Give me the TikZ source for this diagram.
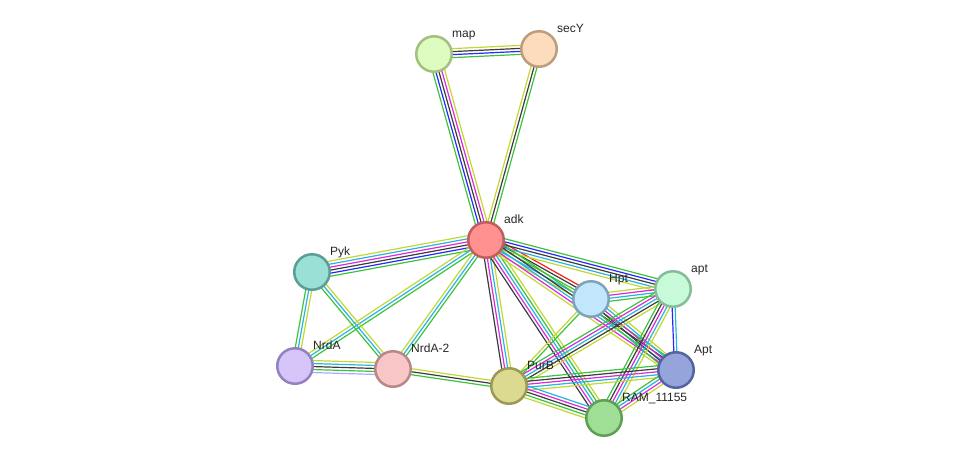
\documentclass[tikz,border=0pt]{standalone}
\usepackage{fontspec}
\setmainfont{Liberation Sans}
\usetikzlibrary{calc,backgrounds}
\definecolor{gn}{RGB}{60,195,60}
\definecolor{rd}{RGB}{250,30,30}
\definecolor{bl}{RGB}{40,40,250}
\definecolor{bk}{RGB}{60,60,60}
\definecolor{mg}{RGB}{220,40,220}
\definecolor{cy}{RGB}{40,180,225}
\definecolor{yl}{RGB}{195,215,50}
\definecolor{lv}{RGB}{170,170,255}
\tikzset{
  prot/.style={circle, minimum size=35.5pt, inner sep=0pt, line width=2.5pt},
  lbl/.style={font=\fontsize{12}{14}\selectfont, anchor=base west, inner sep=0pt, text=black!85},
  evline/.style={line width=1.2pt},
}
\newcommand\sedge[3]{%
  \def\nn{0}%
  \foreach \cc in {#3}{\xdef\nn{\the\numexpr\nn+1\relax}}%
  \foreach \cc [count=\ii] in {#3}{%
    \pgfmathsetmacro\off{(\ii-(\nn+1)/2)*3.0}%
    \draw[evline, color=\cc] ($(#1.center)!\off pt!90:(#2.center)$) -- ($(#2.center)!\off pt!-90:(#1.center)$);
  }%
}
\begin{document}
\begin{tikzpicture}[x=1pt,y=-1pt]
\useasboundingbox (0,0) rectangle (975,464);
\node[prot, fill={rgb,255:red,222;green,252;blue,192}, draw={rgb,255:red,163;green,192;blue,127}] (map) at (434,54) {};
\node[prot, fill={rgb,255:red,253;green,220;blue,189}, draw={rgb,255:red,188;green,157;blue,125}] (secY) at (539,49) {};
\node[prot, fill={rgb,255:red,255;green,145;blue,145}, draw={rgb,255:red,192;green,94;blue,94}] (adk) at (486,240) {};
\node[prot, fill={rgb,255:red,154;green,224;blue,214}, draw={rgb,255:red,90;green,158;blue,149}] (Pyk) at (312,272) {};
\node[prot, fill={rgb,255:red,213;green,197;blue,248}, draw={rgb,255:red,148;green,130;blue,192}] (NrdA) at (295,366) {};
\node[prot, fill={rgb,255:red,248;green,198;blue,198}, draw={rgb,255:red,184;green,136;blue,136}] (NrdA2) at (393,369) {};
\node[prot, fill={rgb,255:red,220;green,217;blue,144}, draw={rgb,255:red,155;green,153;blue,85}] (PurB) at (509,386) {};
\node[prot, fill={rgb,255:red,194;green,230;blue,251}, draw={rgb,255:red,126;green,164;blue,188}] (Hpt) at (591,299) {};
\node[prot, fill={rgb,255:red,198;green,250;blue,216}, draw={rgb,255:red,134;green,188;blue,153}] (apt) at (673,289) {};
\node[prot, fill={rgb,255:red,150;green,164;blue,220}, draw={rgb,255:red,85;green,100;blue,158}] (Apt) at (676,370) {};
\node[prot, fill={rgb,255:red,159;green,223;blue,149}, draw={rgb,255:red,94;green,158;blue,85}] (RAM) at (604,418) {};
\begin{scope}[on background layer]
\sedge{map}{secY}{gn,bl,bk,yl}
\sedge{map}{adk}{gn,bl,bk,mg,yl}
\sedge{secY}{adk}{yl,bk,gn}
\sedge{adk}{Pyk}{yl,cy,mg,bk,bl,gn}
\sedge{adk}{NrdA}{yl,cy,gn}
\sedge{adk}{NrdA2}{yl,cy,gn}
\sedge{Pyk}{NrdA}{gn,cy,yl}
\sedge{Pyk}{NrdA2}{gn,cy,yl}
\sedge{NrdA}{NrdA2}{lv,gn,bk,cy,yl}
\sedge{NrdA2}{PurB}{gn,bk,yl}
\sedge{adk}{PurB}{bk,mg,cy,yl}
\sedge{adk}{RAM}{bk,mg,cy,gn,yl}
\sedge{adk}{Hpt}{yl,cy,gn,bk,rd}
\sedge{adk}{apt}{yl,cy,bk,bl,gn}
\sedge{adk}{Apt}{yl,mg,cy,bk,gn}
\sedge{Hpt}{apt}{gn,cy,mg,yl}
\sedge{Hpt}{Apt}{gn,bk,mg,cy,yl}
\sedge{Hpt}{PurB}{yl,gn}
\sedge{apt}{PurB}{gn,mg,cy,bk,yl}
\sedge{apt}{Apt}{bl,cy}
\sedge{apt}{RAM}{gn,bk,mg,cy,yl}
\sedge{PurB}{Apt}{yl,cy,mg,bk,gn}
\sedge{PurB}{RAM}{yl,gn,bk,mg,cy}
\sedge{Apt}{RAM}{gn,cy,mg,yl}
\end{scope}
\node[lbl] (lmap) at ($(map)+(18,-17)$) {map};
\node[lbl] (lsecY) at ($(secY)+(18,-17)$) {secY};
\node[lbl] (ladk) at ($(adk)+(18,-17)$) {adk};
\node[lbl] (lPyk) at ($(Pyk)+(18,-17)$) {Pyk};
\node[lbl] (lNrdA) at ($(NrdA)+(18,-17)$) {NrdA};
\node[lbl] (lNrdA2) at ($(NrdA2)+(18,-17)$) {NrdA-2};
\node[lbl] (lPurB) at ($(PurB)+(18,-17)$) {PurB};
\node[lbl] (lHpt) at ($(Hpt)+(18,-17)$) {Hpt};
\node[lbl] (lapt) at ($(apt)+(18,-17)$) {apt};
\node[lbl] (lApt) at ($(Apt)+(18,-17)$) {Apt};
\node[lbl] (lRAM) at ($(RAM)+(18,-17)$) {RAM\_11155};
\end{tikzpicture}
\end{document}
